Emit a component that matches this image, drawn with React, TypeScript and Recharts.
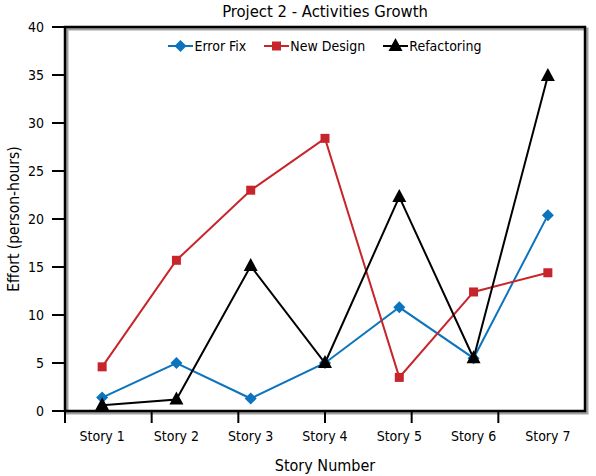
import { LineChart, Line, XAxis, YAxis, ReferenceArea, Legend } from "recharts";

const stories = ["Story 1", "Story 2", "Story 3", "Story 4", "Story 5", "Story 6", "Story 7"];
const errorFix = [1.4, 5.0, 1.3, 5.0, 10.8, 5.5, 20.4];
const newDesign = [4.6, 15.7, 23.0, 28.4, 3.5, 12.4, 14.4];
const refactoring = [0.6, 1.2, 15.1, 5.0, 22.3, 5.5, 34.9];
const yTicks = [0, 5, 10, 15, 20, 25, 30, 35, 40];
const edgeTicks = [0, 1, 2, 3, 4, 5, 6, 7];

const data = stories.map((story, i) => ({
  story,
  errorFix: errorFix[i],
  newDesign: newDesign[i],
  refactoring: refactoring[i],
}));

const FONT = "'Liberation Sans Narrow', 'DejaVu Sans Condensed', 'Arial Narrow', sans-serif";

type Marker = "diamond" | "square" | "triangle";

const series: { key: string; name: string; color: string; marker: Marker }[] = [
  { key: "errorFix", name: "Error Fix", color: "#0b74bd", marker: "diamond" },
  { key: "newDesign", name: "New Design", color: "#c8242c", marker: "square" },
  { key: "refactoring", name: "Refactoring", color: "#000000", marker: "triangle" },
];

function MarkerShape({ kind, cx, cy, color }: { kind: Marker; cx: number; cy: number; color: string }) {
  if (kind === "diamond") {
    return <polygon points={`${cx},${cy - 6} ${cx + 6},${cy} ${cx},${cy + 6} ${cx - 6},${cy}`} fill={color} />;
  }
  if (kind === "square") {
    return <rect x={cx - 4.5} y={cy - 4.5} width={9} height={9} fill={color} />;
  }
  return <polygon points={`${cx},${cy - 8} ${cx + 7},${cy + 5} ${cx - 7},${cy + 5}`} fill={color} />;
}

function LegendContent() {
  return (
    <div
      style={{
        display: "flex",
        justifyContent: "center",
        alignItems: "center",
        gap: 18,
        height: 20,
        fontFamily: FONT,
        fontSize: 14,
        color: "#000",
      }}
    >
      {series.map((s) => (
        <span key={s.key} style={{ display: "flex", alignItems: "center" }}>
          <svg width={25} height={16}>
            <line x1={0} y1={8} x2={25} y2={8} stroke={s.color} strokeWidth={2} />
            <MarkerShape kind={s.marker} cx={12.5} cy={8} color={s.color} />
          </svg>
          <span style={{ marginLeft: 1 }}>{s.name}</span>
        </span>
      ))}
    </div>
  );
}

function Frame(props: any) {
  const { x, y, width, height } = props;
  return (
    <g>
      <rect x={x + 2} y={y + 2} width={width} height={height} fill="none" stroke="#a0a0a0" strokeWidth={3} />
      <rect x={x} y={y} width={width} height={height} fill="none" stroke="#000" strokeWidth={2.5} />
    </g>
  );
}

export default function App() {
  return (
    <div style={{ position: "relative", width: 596, height: 476, background: "#fff" }}>
      <style>{"body{margin:0}"}</style>
      <div
        style={{
          position: "absolute",
          top: 0,
          left: 65,
          width: 520,
          textAlign: "center",
          fontFamily: FONT,
          fontSize: 16.5,
          lineHeight: "24px",
        }}
      >
        Project 2 - Activities Growth
      </div>
      <LineChart width={596} height={476} data={data} margin={{ top: 7, right: 11, bottom: 0, left: 0 }}>
        <XAxis
          type="number"
          domain={[0, 7]}
          ticks={edgeTicks}
          height={1}
          axisLine={false}
          tick={() => <g />}
          tickSize={12}
          tickLine={{ stroke: "#000", strokeWidth: 2 }}
        />
        <XAxis
          xAxisId="cat"
          dataKey="story"
          scale="band"
          height={64}
          axisLine={false}
          tickLine={false}
          tickSize={0}
          tickMargin={19}
          tick={{ fill: "#000", fontFamily: FONT, fontSize: 14 }}
          label={{ value: "Story Number", position: "insideBottom", offset: 5, fill: "#000", fontFamily: FONT, fontSize: 16 }}
        />
        <YAxis
          domain={[0, 40]}
          ticks={yTicks}
          width={65}
          axisLine={false}
          tickSize={13}
          tickMargin={8}
          tickLine={{ stroke: "#000", strokeWidth: 2 }}
          tick={{ fill: "#000", fontFamily: FONT, fontSize: 14 }}
          label={(p: any) => {
            const vb = p.viewBox;
            const lx = vb.x + 14;
            const ly = vb.y + vb.height / 2;
            return (
              <text
                x={lx}
                y={ly}
                transform={`rotate(-90, ${lx}, ${ly})`}
                textAnchor="middle"
                dominantBaseline="central"
                fontFamily={FONT}
                fontSize={15.5}
                fill="#000"
              >
                Effort (person-hours)
              </text>
            );
          }}
        />
        <ReferenceArea xAxisId="cat" shape={Frame} />
        <Legend
          verticalAlign="top"
          content={LegendContent}
          wrapperStyle={{ top: 36, left: 65, width: 520 }}
        />
        {series.map((s) => (
          <Line
            key={s.key}
            xAxisId="cat"
            dataKey={s.key}
            name={s.name}
            stroke={s.color}
            strokeWidth={2}
            isAnimationActive={false}
            dot={(p: any) => <MarkerShape key={`${s.key}-${p.index}`} kind={s.marker} cx={p.cx} cy={p.cy} color={s.color} />}
            activeDot={false}
          />
        ))}
      </LineChart>
    </div>
  );
}
